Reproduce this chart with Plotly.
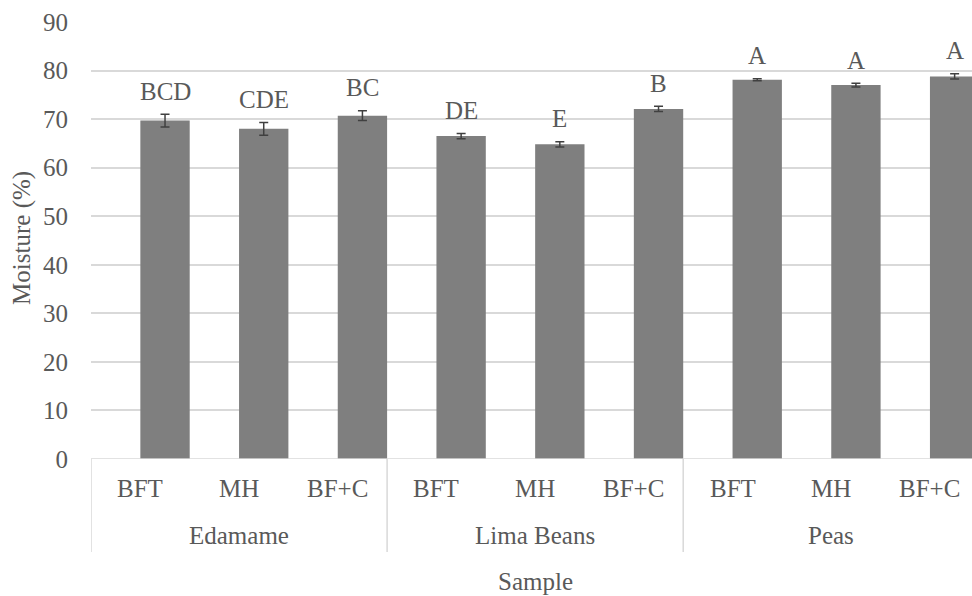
import plotly.graph_objects as go

# Moisture content by sample and drying treatment
groups = ["Edamame", "Lima Beans", "Peas"]
treatments = ["BFT", "MH", "BF+C"]
moisture = [69.7, 68.0, 70.7, 66.5, 64.8, 72.1, 78.1, 77.0, 78.8]
std_err = [1.3, 1.3, 1.0, 0.55, 0.55, 0.55, 0.2, 0.37, 0.55]
letters = ["BCD", "CDE", "BC", "DE", "E", "B", "A", "A", "A"]
y_ticks = list(range(0, 91, 10))

FONT = "Liberation Serif, Times New Roman, serif"
TXT = "#595959"
GRID = "#d9d9d9"
FS = 25

n = len(moisture)
pos = list(range(n))
sub_labels = [t for _ in groups for t in treatments]

fig = go.Figure()
fig.add_trace(go.Bar(
    x=pos,
    y=moisture,
    width=0.5,
    offset=0,
    marker=dict(color="#7f7f7f", line=dict(width=0)),
    error_y=dict(type="data", array=std_err, visible=True,
                 color="#404040", thickness=1.5, width=4.5),
    hoverinfo="skip",
))

annotations = []
# significance letters above each bar
for i, (v, e, lab) in enumerate(zip(moisture, std_err, letters)):
    annotations.append(dict(x=i + 0.25, y=v + e, xref="x", yref="y", text=lab,
                            showarrow=False, yanchor="middle", yshift=23,
                            font=dict(family=FONT, size=FS, color=TXT)))
# treatment labels
for i, lab in enumerate(sub_labels):
    annotations.append(dict(x=i, y=-0.0664, xref="x", yref="paper", text=lab,
                            showarrow=False, yanchor="middle",
                            font=dict(family=FONT, size=FS, color=TXT)))
# sample group labels
k = len(treatments)
for g, name in enumerate(groups):
    annotations.append(dict(x=g * k + (k - 1) / 2, y=-0.174, xref="x", yref="paper",
                            text=name, showarrow=False, yanchor="middle",
                            font=dict(family=FONT, size=FS, color=TXT)))
# axis titles
annotations.append(dict(x=(n - 1) / 2, y=-0.281, xref="x", yref="paper", text="Sample",
                        showarrow=False, yanchor="middle",
                        font=dict(family=FONT, size=FS, color=TXT)))
annotations.append(dict(x=-0.0783, y=0.506, xref="paper", yref="paper",
                        text="Moisture (%)", textangle=-90, showarrow=False,
                        xanchor="center", yanchor="middle",
                        font=dict(family=FONT, size=FS, color=TXT)))

shapes = []
# category axis baseline
shapes.append(dict(type="line", xref="paper", yref="y", x0=0, x1=1, y0=0, y1=0,
                   line=dict(color=GRID, width=1.5)))
# group dividers
for g in range(len(groups) + 1):
    xd = g * k - 0.5
    shapes.append(dict(type="line", xref="x", yref="paper", x0=xd, x1=xd,
                       y0=0, y1=-0.213, line=dict(color=GRID, width=1.5)))

fig.update_layout(
    width=972, height=596,
    margin=dict(l=91, r=0, t=22, b=137),
    paper_bgcolor="white", plot_bgcolor="white",
    showlegend=False,
    font=dict(family=FONT, size=FS, color=TXT),
    annotations=annotations,
    shapes=shapes,
    xaxis=dict(range=[-0.5, 8.426], showticklabels=False, showgrid=False,
               zeroline=False, showline=False, ticks=""),
    yaxis=dict(range=[0, 90], tickvals=y_ticks, showgrid=True, gridcolor=GRID,
               gridwidth=1.5, zeroline=False, showline=False, ticks="",
               ticklabelstandoff=22,
               tickfont=dict(family=FONT, size=FS, color=TXT)),
)

fig.write_html("out.html")
